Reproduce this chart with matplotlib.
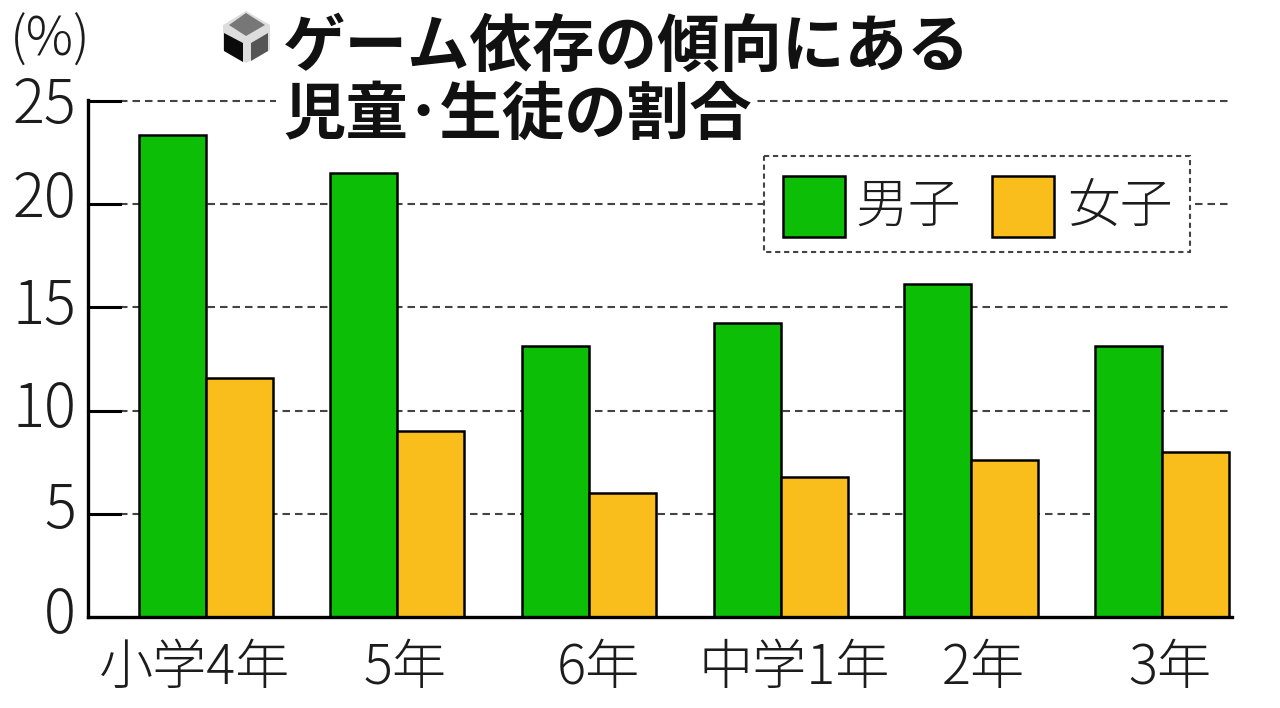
import matplotlib
matplotlib.use("Agg")
import matplotlib.pyplot as plt
from matplotlib.patches import Rectangle, Polygon

plt.rcParams['font.family'] = ['Noto Sans CJK JP', 'DejaVu Sans']

categories = ['小学4年', '5年', '6年', '中学1年', '2年', '3年']
boys = [23.35, 21.5, 13.15, 14.25, 16.15, 13.15]
girls = [11.6, 9.0, 6.0, 6.8, 7.6, 8.0]
yticks = [0, 5, 10, 15, 20, 25]
centers_px = [206, 397, 589, 780.5, 971, 1162]
label_px = [195, 405, 598, 794, 983, 1170]
tick_dy = [0, -2, 0, 0, -4, 5]
bar_w_px = 67
GREEN = '#0CBF06'
YELLOW = '#FABE1C'
INK = '#1c1c1c'

W, H = 1280, 708
fig = plt.figure(figsize=(W/100, H/100), dpi=100, facecolor='white')
ax = fig.add_axes([0, 0, 1, 1])
ax.axis('off')
ax.set_xlim(0, W)
y0, y25 = 617, 101
ax.set_ylim(H, 0)
def ypx(v): return y0 - (y0 - y25) * v / 25

for t in yticks[1:]:
    ax.plot([120, 1230], [ypx(t)]*2, color='#444444', lw=1.5, ls=(0, (3.6, 2.4)), zorder=1)
    ax.plot([88, 120], [ypx(t)]*2, color='black', lw=2.2, zorder=2)
ax.plot([88, 88], [y25-1, y0], color='black', lw=2.4, zorder=4)
ax.plot([88, 1232], [y0, y0], color='black', lw=2.4, zorder=4)

for c, b, g in zip(centers_px, boys, girls):
    ax.add_patch(Rectangle((c-bar_w_px, ypx(b)), bar_w_px, y0-ypx(b), fc=GREEN, ec='black', lw=1.8, zorder=3))
    ax.add_patch(Rectangle((c, ypx(g)), bar_w_px, y0-ypx(g), fc=YELLOW, ec='black', lw=1.8, zorder=3))

for t, d in zip(yticks, tick_dy):
    ax.text(76, ypx(t)+d, str(t), ha='right', va='center', fontsize=43, color=INK, weight='light')
for lab, x in zip(categories, label_px):
    ax.text(x, 668, lab, ha='center', va='center', fontsize=39, color=INK, weight='light')
ax.text(50, 41, '(%)', ha='center', va='center', fontsize=38, color=INK, weight='light')

# title block
ax.add_patch(Rectangle((276, 92), 478, 52, fc='white', ec='none', zorder=2))
ax.text(283, 47, 'ゲーム依存の傾向にある', ha='left', va='center', fontsize=45, weight='bold', color='#111111', zorder=5)
ax.text(283, 115, '児童･生徒の割合', ha='left', va='center', fontsize=45, weight='bold', color='#111111', zorder=5)
# cube icon
ax.add_patch(Polygon([(246, 11), (270, 25), (270, 50), (246, 63), (223, 50), (223, 25)], fc='#dddddd', ec='none', zorder=4))
ax.add_patch(Polygon([(246, 13), (265, 25), (246, 36), (229, 25)], fc='#777777', ec='none', zorder=5))
ax.add_patch(Polygon([(224, 33), (243, 43), (243, 62), (224, 51)], fc='#0a0a0a', ec='none', zorder=5))
ax.add_patch(Polygon([(268, 33), (251, 43), (251, 61), (268, 51)], fc='#555555', ec='none', zorder=5))

# legend
ax.add_patch(Rectangle((764, 156), 426, 96, fc='white', ec='#444444', lw=1.5, ls=(0, (2.5, 1.8)), zorder=4))
ax.add_patch(Rectangle((783, 176), 62, 61, fc=GREEN, ec='black', lw=1.8, zorder=5))
ax.add_patch(Rectangle((992, 176), 62, 61, fc=YELLOW, ec='black', lw=1.8, zorder=5))
ax.text(908, 207, '男子', ha='center', va='center', fontsize=38, color=INK, zorder=5, weight='light')
ax.text(1120, 207, '女子', ha='center', va='center', fontsize=38, color=INK, zorder=5, weight='light')

fig.savefig('out.png', dpi=100)
